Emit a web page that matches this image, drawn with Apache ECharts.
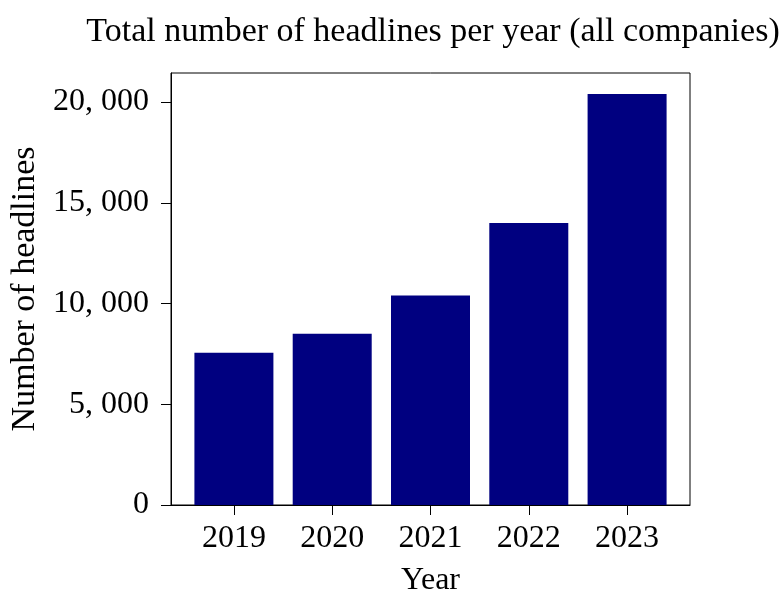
<!DOCTYPE html>
<html>
<head>
<meta charset="utf-8">
<script src="https://cdn.jsdelivr.net/npm/echarts@6/dist/echarts.min.js"></script>
<style>
  html, body { margin: 0; padding: 0; background: #fff; }
  #chart { width: 779px; height: 593px; }
</style>
</head>
<body>
<div id="chart"></div>
<script>
// data
const years = ['2019', '2020', '2021', '2022', '2023']
const headlines = [7550, 8500, 10400, 14000, 20400]
const yTicks = [0, 5000, 10000, 15000, 20000]

const font = 'Liberation Serif'

function fmtNum (v) {
  return String(v).replace(/\B(?=(\d{3})+(?!\d))/g, ', ')
}

const myChart = echarts.init(document.getElementById('chart'))

myChart.setOption({
  animation: false,
  backgroundColor: '#fff',
  textStyle: { fontFamily: font, color: '#000' },
  title: {
    text: 'Total number of headlines per year (all companies)',
    left: 428,
    textAlign: 'center',
    top: 10,
    textStyle: { fontFamily: font, fontSize: 34, fontWeight: 'normal', color: '#000' }
  },
  grid: {
    left: 171, right: 89, top: 73, bottom: 88,
    outerBoundsMode: 'none',
    containLabel: false,
    show: true, borderColor: '#000', borderWidth: 1, backgroundColor: 'transparent'
  },
  xAxis: {
    type: 'value',
    min: -0.64,
    max: 4.64,
    name: 'Year',
    nameLocation: 'middle',
    nameGap: 60,
    nameTextStyle: { fontFamily: font, fontSize: 32, color: '#000' },
    axisLine: { show: true, onZero: false, lineStyle: { color: '#000', width: 1 } },
    axisTick: { show: true, length: 10, lineStyle: { color: '#000' }, customValues: [0, 1, 2, 3, 4] },
    axisLabel: {
      customValues: [0, 1, 2, 3, 4],
      formatter: v => years[Math.round(v)],
      fontFamily: font, fontSize: 32, color: '#000', margin: 18
    },
    splitLine: { show: false }
  },
  yAxis: {
    type: 'value',
    min: 0,
    max: 21440,
    interval: 5000,
    name: 'Number of headlines',
    nameLocation: 'middle',
    nameGap: 125,
    nameTextStyle: { fontFamily: font, fontSize: 34, color: '#000' },
    axisLine: { show: true, onZero: false, lineStyle: { color: '#000', width: 1 } },
    axisTick: { show: true, length: 10, lineStyle: { color: '#000' }, customValues: yTicks },
    axisLabel: {
      customValues: yTicks,
      formatter: v => fmtNum(v),
      fontFamily: font, fontSize: 32, color: '#000', margin: 22
    },
    splitLine: { show: false }
  },
  series: [{
    type: 'bar',
    data: headlines.map((v, i) => [i, v]),
    barWidth: 79,
    itemStyle: { color: '#000080' }
  }]
})
</script>
</body>
</html>
